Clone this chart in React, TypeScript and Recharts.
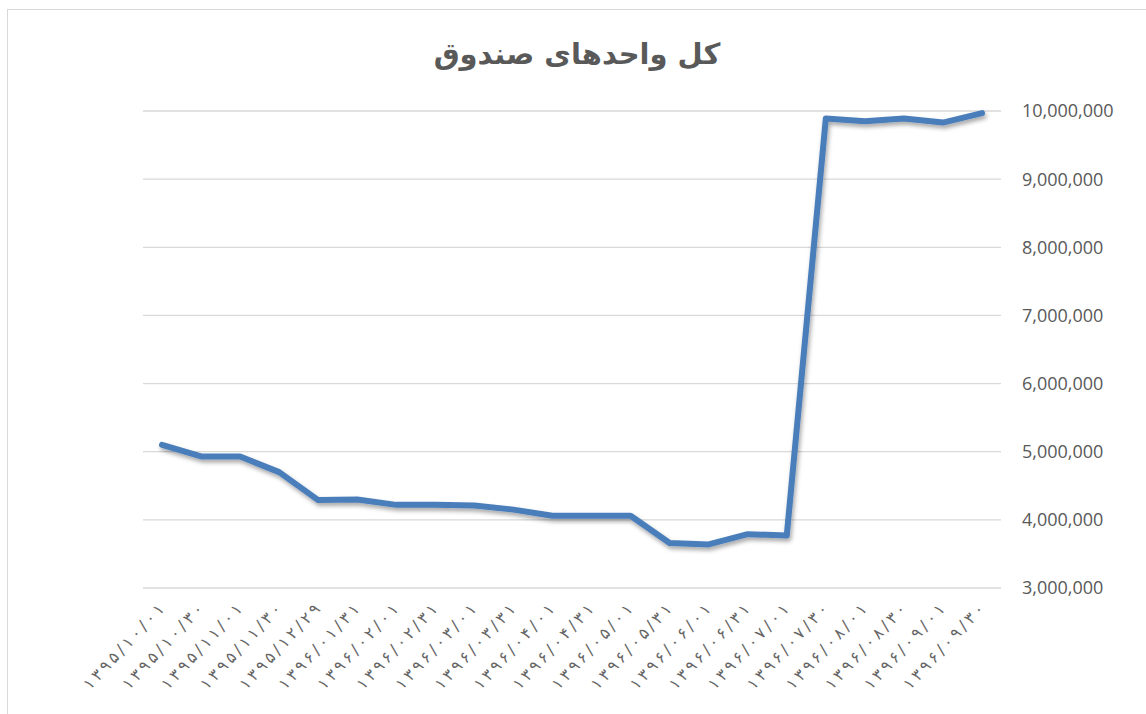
import { LineChart, Line, XAxis, YAxis, CartesianGrid } from 'recharts'

const dates = [
    '۱۳۹۵/۱۰/۰۱', '۱۳۹۵/۱۰/۳۰', '۱۳۹۵/۱۱/۰۱', '۱۳۹۵/۱۱/۳۰', '۱۳۹۵/۱۲/۲۹', '۱۳۹۶/۰۱/۳۱',
    '۱۳۹۶/۰۲/۰۱', '۱۳۹۶/۰۲/۳۱', '۱۳۹۶/۰۳/۰۱', '۱۳۹۶/۰۳/۳۱', '۱۳۹۶/۰۴/۰۱', '۱۳۹۶/۰۴/۳۱',
    '۱۳۹۶/۰۵/۰۱', '۱۳۹۶/۰۵/۳۱', '۱۳۹۶/۰۶/۰۱', '۱۳۹۶/۰۶/۳۱', '۱۳۹۶/۰۷/۰۱', '۱۳۹۶/۰۷/۳۰',
    '۱۳۹۶/۰۸/۰۱', '۱۳۹۶/۰۸/۳۰', '۱۳۹۶/۰۹/۰۱', '۱۳۹۶/۰۹/۳۰',
]

const units = [
    5100000, 4930000, 4930000, 4700000, 4290000, 4300000,
    4220000, 4220000, 4210000, 4150000, 4060000, 4060000,
    4060000, 3660000, 3640000, 3790000, 3770000, 9890000,
    9850000, 9890000, 9830000, 9970000,
]

const yTicks = [3000000, 4000000, 5000000, 6000000, 7000000, 8000000, 9000000, 10000000]

const title = 'کل واحدهای صندوق'

const data = dates.map((d, i) => ({ date: d, units: units[i] }))

const DateTick = (props: any) => {
    const { x, y, payload } = props
    return (
        <text
            transform={`translate(${x + 3},${y + 22}) rotate(-47)`}
            textAnchor="end"
            fill="#666"
            fontSize={16}
            textLength={110}
            lengthAdjust="spacing"
            fontFamily="DejaVu Sans, sans-serif"
        >
            {payload.value}
        </text>
    )
}

export default function App() {
    return (
        <div style={{ position: 'fixed', left: 0, top: 0, width: 1146, height: 714, overflow: 'hidden', background: '#fff' }}>
            <div
                style={{
                    position: 'absolute',
                    left: 7,
                    top: 9,
                    width: 1150,
                    height: 720,
                    border: '1px solid #d9d9d9',
                }}
            >
                <div
                    style={{
                        position: 'absolute',
                        left: 0,
                        width: 1146,
                        top: 27,
                        textAlign: 'center',
                        fontFamily: 'DejaVu Sans, sans-serif',
                        fontWeight: 'bold',
                        fontSize: 29,
                        color: '#595959',
                        direction: 'rtl',
                        marginLeft: -4,
                    }}
                >
                    {title}
                </div>
                <LineChart
                    width={1138}
                    height={704}
                    data={data}
                    margin={{ top: 101, right: 0, bottom: 0, left: 135 }}
                    style={{ position: 'absolute', left: 0, top: 0 }}
                >
                    <defs>
                        <filter id="lineShadow" x="-5%" y="-5%" width="110%" height="120%">
                            <feDropShadow dx="1.5" dy="3" stdDeviation="2" floodColor="#000" floodOpacity="0.35" />
                        </filter>
                    </defs>
                    <CartesianGrid vertical={false} stroke="#d9d9d9" strokeWidth={1.3} />
                    <XAxis
                        dataKey="date"
                        axisLine={false}
                        tickLine={false}
                        tickSize={0}
                        tickMargin={0}
                        height={126}
                        interval={0}
                        padding={{ left: 19, right: 19 }}
                        tick={<DateTick />}
                    />
                    <YAxis
                        orientation="right"
                        domain={[3000000, 10000000]}
                        ticks={yTicks}
                        axisLine={false}
                        tickLine={false}
                        tickSize={0}
                        tickMargin={21}
                        width={145}
                        tick={{ fill: '#595959', fontSize: 18, fontFamily: 'Open Sans, sans-serif' }}
                        tickFormatter={(v: number) => v.toLocaleString('en-US')}
                    />
                    <Line
                        type="linear"
                        dataKey="units"
                        stroke="#4a7ebb"
                        strokeWidth={6}
                        strokeLinejoin="round"
                        strokeLinecap="round"
                        dot={false}
                        activeDot={false}
                        isAnimationActive={false}
                        filter="url(#lineShadow)"
                    />
                </LineChart>
            </div>
        </div>
    )
}
